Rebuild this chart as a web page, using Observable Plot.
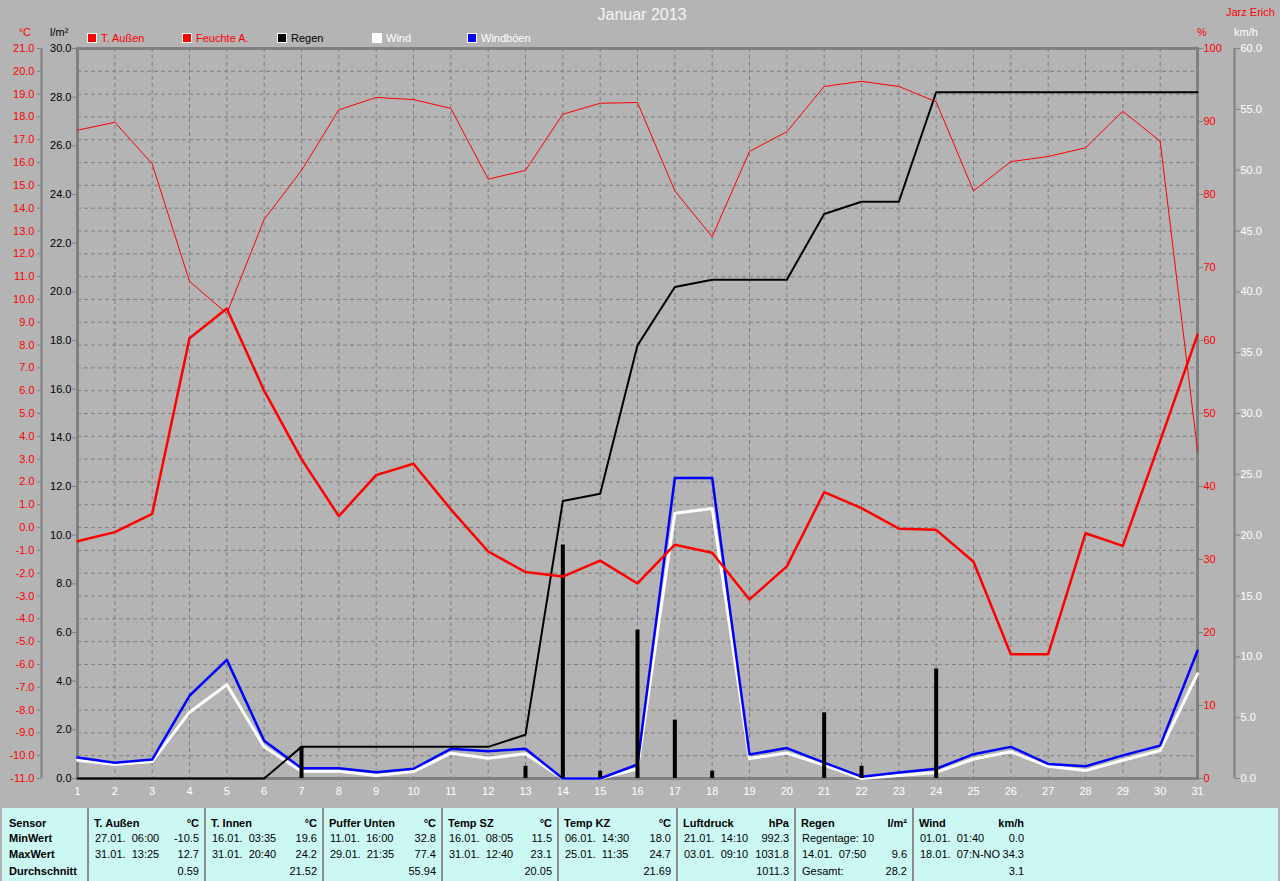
<!DOCTYPE html>
<html><head><meta charset="utf-8">
<script src="https://cdn.jsdelivr.net/npm/d3@7"></script>
<script src="https://cdn.jsdelivr.net/npm/@observablehq/plot@0.6"></script>
<style>
body{margin:0;background:#b4b4b4;font-family:"Liberation Sans",Arial,sans-serif;}
#wrap{position:relative;width:1280px;height:881px;overflow:hidden;background:#b4b4b4;}
#wrap svg{position:absolute;left:0;top:0;}
.t{position:absolute;white-space:pre;font-size:11px;line-height:12px;}
.b{font-weight:bold;}
.r{text-align:right;}
</style></head><body><div id="wrap"></div>
<script>
// ---- data ----
const days = [1,2,3,4,5,6,7,8,9,10,11,12,13,14,15,16,17,18,19,20,21,22,23,24,25,26,27,28,29,30,31];
const tempOut = [-0.6,-0.2,0.6,8.3,9.6,6.0,3.0,0.5,2.3,2.8,0.8,-1.05,-1.95,-2.15,-1.45,-2.45,-0.75,-1.1,-3.15,-1.7,1.55,0.85,-0.05,-0.1,-1.5,-5.55,-5.55,-0.25,-0.8,3.8,8.45];
const humidity = [88.8,89.9,84.2,68.1,63.7,76.6,83.3,91.6,93.3,93.0,91.8,82.1,83.3,91.0,92.5,92.6,80.5,74.2,85.9,88.6,94.8,95.5,94.8,92.7,80.5,84.5,85.2,86.4,91.4,87.3,44.9];
const rainCum = [0,0,0,0,0,0,1.3,1.3,1.3,1.3,1.3,1.3,1.8,11.4,11.7,17.8,20.2,20.5,20.5,20.5,23.2,23.7,23.7,28.2,28.2,28.2,28.2,28.2,28.2,28.2,28.2];
const rainDays = [7,13,14,15,16,17,18,21,22,24];
const rainDaily = [1.3,0.5,9.6,0.3,6.1,2.4,0.3,2.7,0.5,4.5];
const wind = [1.5,1.15,1.4,5.45,7.7,2.6,0.6,0.6,0.25,0.57,2.08,1.67,2.03,0,0,0.8,21.8,22.2,1.64,2.1,1.1,0,0.25,0.5,1.6,2.2,1.0,0.65,1.5,2.3,8.6];
const gusts = [1.73,1.3,1.56,6.8,9.75,3.1,0.85,0.85,0.52,0.8,2.44,2.24,2.44,0,0,1.15,24.7,24.7,1.97,2.5,1.3,0.15,0.5,0.8,2.0,2.6,1.2,1.0,1.9,2.7,10.5];

const tempTicks = [-11,-10,-9,-8,-7,-6,-5,-4,-3,-2,-1,0,1,2,3,4,5,6,7,8,9,10,11,12,13,14,15,16,17,18,19,20,21];
const rainTicks = [0,2,4,6,8,10,12,14,16,18,20,22,24,26,28,30];
const humTicks = [0,10,20,30,40,50,60,70,80,90,100];
const windTicks = [0,5,10,15,20,25,30,35,40,45,50,55,60];

const legendNames = ["T. Außen","Feuchte A.","Regen","Wind","Windböen"];
const legendFill = ["#ff0000","#ff0000","#000000","#ffffff","#0000ff"];
const legendText = ["#ff0000","#ff0000","#000000","#ffffff","#ffffff"];

const rowLabels = ["Sensor","MinWert","MaxWert","Durchschnitt"];
const sensorNames = ["T. Außen","T. Innen","Puffer Unten","Temp SZ","Temp KZ","Luftdruck","Regen","Wind"];
const sensorUnits = ["°C","°C","°C","°C","°C","hPa","l/m²","km/h"];
const minTimes = ["27.01.  06:00","16.01.  03:35","11.01.  16:00","16.01.  08:05","06.01.  14:30","21.01.  14:10","Regentage: 10","01.01.  01:40"];
const minVals = ["-10.5","19.6","32.8","11.5","18.0","992.3","","0.0"];
const maxTimes = ["31.01.  13:25","31.01.  20:40","29.01.  21:35","31.01.  12:40","25.01.  11:35","03.01.  09:10","14.01.  07:50","18.01.  07:N-NO"];
const maxVals = ["12.7","24.2","77.4","23.1","24.7","1031.8","9.6","34.3"];
const avgLabels = ["","","","","","","Gesamt:",""];
const avgVals = ["0.59","21.52","55.94","20.05","21.69","1011.3","28.2","3.1"];

// ---- scale mapping (all series share the °C pixel range) ----
const T0 = -11, T1 = 21;
const fromRain = v => T0 + v * (T1 - T0) / 30;
const toRain = c => (c - T0) * 30 / (T1 - T0);
const fromHum = v => T0 + v * (T1 - T0) / 100;
const toHum = c => (c - T0) * 100 / (T1 - T0);
const fromWind = v => T0 + v * (T1 - T0) / 60;
const toWind = c => (c - T0) * 60 / (T1 - T0);

const grid = "#808080";
const chart = Plot.plot({
  width: 1280, height: 808,
  marginLeft: 77, marginRight: 83, marginTop: 48, marginBottom: 30,
  x: {domain: [1, 31]},
  y: {domain: [T0, T1]},
  style: {background: "transparent", fontFamily: "Liberation Sans, Arial, sans-serif", fontSize: "11px", overflow: "visible"},
  marks: [
    Plot.gridX({ticks: days.slice(1, -1), stroke: grid, strokeOpacity: 1, strokeDasharray: "4,3"}),
    Plot.gridY({ticks: tempTicks.slice(1, -1), stroke: grid, strokeOpacity: 1, strokeDasharray: "4,3"}),
    Plot.frame({stroke: grid, strokeWidth: 3}),
    Plot.line(days, {x: d => d, y: (d, i) => fromWind(wind[i]), stroke: "#ffffff", strokeWidth: 3}),
    Plot.line(days, {x: d => d, y: (d, i) => fromWind(gusts[i]), stroke: "#0000ff", strokeWidth: 2.5}),
    Plot.ruleX(rainDays, {x: d => d, y1: T0, y2: (d, i) => fromRain(rainDaily[i]), stroke: "#000", strokeWidth: 4}),
    Plot.line(days, {x: d => d, y: (d, i) => fromRain(rainCum[i]), stroke: "#000", strokeWidth: 2}),
    Plot.line(days, {x: d => d, y: (d, i) => fromHum(humidity[i]), stroke: "#ff0000", strokeWidth: 1}),
    Plot.line(days, {x: d => d, y: (d, i) => tempOut[i], stroke: "#ff0000", strokeWidth: 2.5}),
    // left axis lines / ticks
    Plot.ruleX([1], {x: d => d, y1: T0, y2: T1, dx: -36, stroke: grid, strokeWidth: 2}),
    Plot.axisY({anchor: "left", ticks: tempTicks, dx: -36, tickSize: 4, tickPadding: 3, stroke: grid, fill: "#ff0000", tickFormat: d => d.toFixed(1), label: null}),
    Plot.axisY({anchor: "left", ticks: rainTicks.map(fromRain), tickSize: 5, tickPadding: 1, stroke: grid, fill: "#000", tickFormat: d => toRain(d).toFixed(1), label: null}),
    Plot.axisY({anchor: "right", ticks: humTicks.map(fromHum), tickSize: 5, tickPadding: 1, stroke: grid, fill: "#ff0000", tickFormat: d => String(Math.round(toHum(d))), label: null}),
    Plot.ruleX([31], {x: d => d, y1: T0, y2: T1, dx: 37, stroke: grid, strokeWidth: 2}),
    Plot.axisY({anchor: "right", ticks: windTicks.map(fromWind), dx: 37, tickSize: 5, tickPadding: 1, stroke: grid, fill: "#ffffff", tickFormat: d => toWind(d).toFixed(1), label: null}),
    Plot.axisX({ticks: days, tickSize: 0, tickPadding: 9, fill: "#ffffff", tickFormat: d => String(d), label: null})
  ]
});

const wrap = document.getElementById("wrap");
wrap.appendChild(chart);

function txt(s, x, yc, opts = {}) {
  const el = document.createElement("div");
  el.className = "t" + (opts.bold ? " b" : "");
  el.textContent = s;
  el.style.top = (yc - 6) + "px";
  if (opts.size) { el.style.fontSize = opts.size + "px"; el.style.lineHeight = (opts.size + 2) + "px"; el.style.top = (yc - (opts.size + 2) / 2) + "px"; }
  if (opts.right !== undefined) { el.style.right = (1280 - opts.right) + "px"; el.style.textAlign = "right"; }
  else if (opts.center !== undefined) { el.style.left = (opts.center - 100) + "px"; el.style.width = "200px"; el.style.textAlign = "center"; }
  else el.style.left = x + "px";
  el.style.color = opts.color || "#000";
  wrap.appendChild(el);
  return el;
}

// title and header texts
txt("Januar 2013", 0, 15, {center: 642, color: "#f4f4f4", size: 16});
txt("Jarz Erich", 1226, 12, {color: "#ff0000"});
txt("°C", 0, 32, {right: 31, color: "#ff0000"});
txt("l/m²", 50, 32, {color: "#000"});
txt("%", 1197, 32, {color: "#ff0000"});
txt("km/h", 1234, 32, {color: "#ffffff"});

// legend
const legendX = [87, 182, 277, 372, 467];
legendNames.forEach((n, i) => {
  const sq = document.createElement("div");
  sq.style.cssText = `position:absolute;left:${legendX[i]}px;top:33px;width:8px;height:8px;border:1px solid #fff;background:${legendFill[i]};`;
  wrap.appendChild(sq);
  txt(n, legendX[i] + 14, 38, {color: legendText[i]});
});

// table
const tbl = document.createElement("div");
tbl.style.cssText = "position:absolute;left:2px;top:808px;width:1276px;height:73px;background:#ccf8f4;";
wrap.appendChild(tbl);
const colX = [88, 205, 323, 442, 558, 677, 795, 913, 1030];
const rowY = [823, 838, 854, 871];
colX.slice(0, 8).forEach(x => {
  const s = document.createElement("div");
  s.style.cssText = `position:absolute;left:${x - 1}px;top:808px;width:2px;height:73px;background:#8c8c8c;`;
  wrap.appendChild(s);
});
rowLabels.forEach((l, r) => txt(l, 9, rowY[r], {bold: true}));
sensorNames.forEach((n, i) => {
  const a = colX[i] + 7, b = colX[i + 1] - 6;
  txt(n, a - 1, rowY[0], {bold: true});
  txt(sensorUnits[i], 0, rowY[0], {bold: true, right: b});
  txt(minTimes[i], a, rowY[1]);
  if (minVals[i]) txt(minVals[i], 0, rowY[1], {right: b});
  txt(maxTimes[i], a, rowY[2]);
  txt(maxVals[i], 0, rowY[2], {right: b});
  if (avgLabels[i]) txt(avgLabels[i], a, rowY[3]);
  txt(avgVals[i], 0, rowY[3], {right: b});
});
</script></body></html>
